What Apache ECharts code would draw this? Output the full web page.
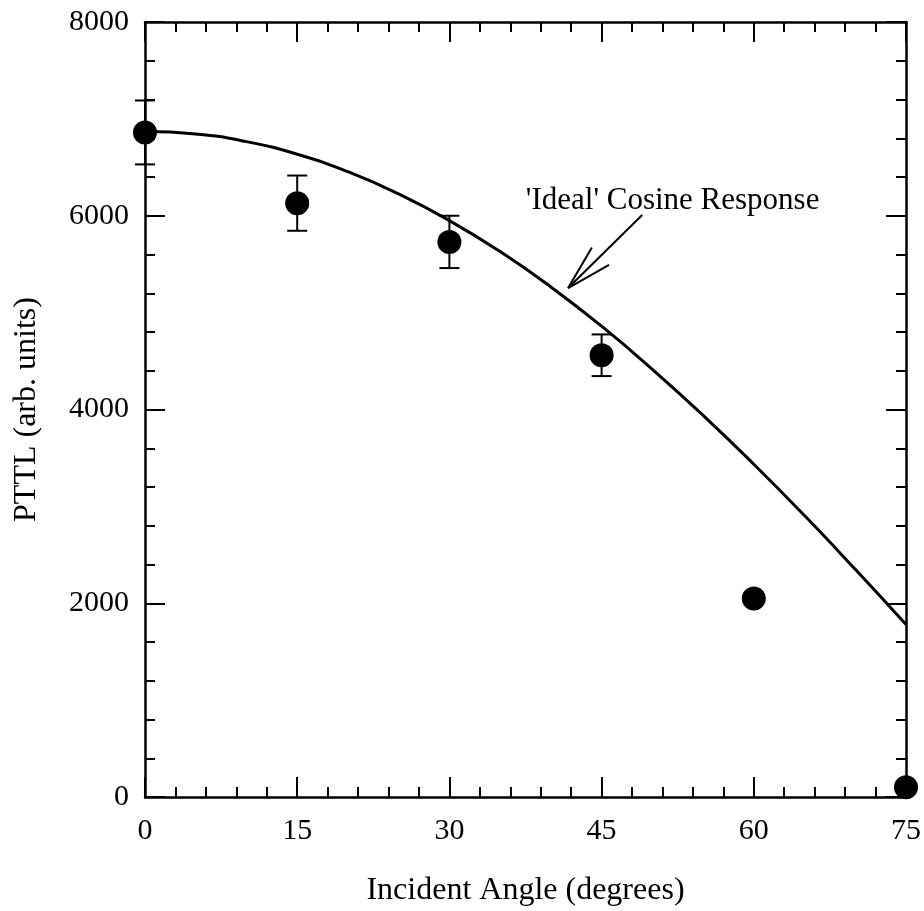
<!DOCTYPE html>
<html><head><meta charset="utf-8">
<script src="https://cdn.jsdelivr.net/npm/echarts@6/dist/echarts.min.js"></script>
<style>html,body{margin:0;padding:0;background:#fff}#c{width:924px;height:911px}</style>
</head><body><div id="c"></div>
<script>
// ---- data ----
const angles = [0, 15, 30, 45, 60, 75];
const pttl = [6860, 6130, 5730, 4560, 2050, 100];
const pttlErr = [330, 285, 270, 215, 0, 0];
const curveAngles = [0, 5, 10, 15, 20, 25, 30, 35, 40, 45, 50, 55, 60, 65, 70, 75];
const curveValues = [6870, 6845, 6765, 6635, 6455, 6225, 5950, 5630, 5265, 4860, 4415, 3940, 3435, 2905, 2350, 1780];
const xTickValues = [0, 15, 30, 45, 60, 75];
const yTickValues = [0, 2000, 4000, 6000, 8000];
const annotationText = "'Ideal' Cosine Response";
const arrowTail = [49.0, 6008];
const arrowTip = [41.7, 5254];
const annotationAt = [52.0, 6150];

const FONT = 'Liberation Serif';
const chart = echarts.init(document.getElementById('c'));

function axisCommon(showLabel, margin) {
  return {
    axisLine: { show: true, onZero: false, lineStyle: { color: '#000', width: 2.5 } },
    axisTick: { show: true, inside: true, length: 20, lineStyle: { color: '#000', width: 2 } },
    minorTick: { show: true, splitNumber: 5, length: 10, lineStyle: { color: '#000', width: 2 } },
    splitLine: { show: false },
    axisLabel: { show: showLabel, color: '#000', fontFamily: FONT, fontSize: 30, margin: margin,
                 formatter: function (v) { return String(v); } }
  };
}

const xBase = { type: 'value', min: xTickValues[0], max: xTickValues[xTickValues.length - 1], interval: 15 };
const yBase = { type: 'value', min: yTickValues[0], max: yTickValues[yTickValues.length - 1], interval: 2000 };

const option = {
  backgroundColor: '#fff',
  animation: false,
  grid: { left: 145, right: 18, top: 22, bottom: 114, containLabel: false, outerBoundsMode: 'none' },
  xAxis: [
    Object.assign({}, xBase, axisCommon(true, 19), {
      position: 'bottom',
      name: 'Incident Angle (degrees)', nameLocation: 'middle', nameGap: 78,
      nameTextStyle: { color: '#000', fontFamily: FONT, fontSize: 32 }
    }),
    Object.assign({}, xBase, axisCommon(false, 15), { position: 'top' })
  ],
  yAxis: [
    Object.assign({}, yBase, axisCommon(true, 16), {
      position: 'left',
      name: 'PTTL (arb. units)', nameLocation: 'middle', nameGap: 102, nameRotate: 90,
      nameTextStyle: { color: '#000', fontFamily: FONT, fontSize: 32 }
    }),
    Object.assign({}, yBase, axisCommon(false, 15), { position: 'right' })
  ],
  series: [
    {
      type: 'line', xAxisIndex: 0, yAxisIndex: 0,
      data: curveAngles.map((a, i) => [a, curveValues[i]]),
      smooth: true, showSymbol: false, symbol: 'none',
      lineStyle: { color: '#000', width: 3 }, z: 3
    },
    {
      type: 'custom', xAxisIndex: 0, yAxisIndex: 0,
      data: angles.map((a, i) => [a, pttl[i], pttlErr[i]]),
      renderItem: function (params, api) {
        const x = api.value(0), y = api.value(1), e = api.value(2);
        if (!e) return null;
        const top = api.coord([x, y + e]);
        const bot = api.coord([x, y - e]);
        const hw = 10;
        const st = { stroke: '#000', lineWidth: 2 };
        return {
          type: 'group', children: [
            { type: 'line', shape: { x1: top[0], y1: top[1], x2: bot[0], y2: bot[1] }, style: st },
            { type: 'line', shape: { x1: top[0] - hw, y1: top[1], x2: top[0] + hw, y2: top[1] }, style: st },
            { type: 'line', shape: { x1: bot[0] - hw, y1: bot[1], x2: bot[0] + hw, y2: bot[1] }, style: st }
          ]
        };
      }, z: 4
    },
    {
      type: 'scatter', xAxisIndex: 0, yAxisIndex: 0,
      data: angles.map((a, i) => [a, pttl[i]]),
      symbol: 'circle', symbolSize: 24,
      itemStyle: { color: '#000', opacity: 1 }, z: 5
    },
    {
      type: 'custom', xAxisIndex: 0, yAxisIndex: 0,
      data: [[arrowTail[0], arrowTail[1], arrowTip[0], arrowTip[1], annotationAt[0], annotationAt[1]]],
      renderItem: function (params, api) {
        const t = api.coord([api.value(0), api.value(1)]);
        const p = api.coord([api.value(2), api.value(3)]);
        const txt = api.coord([api.value(4), api.value(5)]);
        const ang = Math.atan2(t[1] - p[1], t[0] - p[0]);
        const L = 47, da = 15 * Math.PI / 180;
        const h1 = [p[0] + L * Math.cos(ang + da), p[1] + L * Math.sin(ang + da)];
        const h2 = [p[0] + L * Math.cos(ang - da), p[1] + L * Math.sin(ang - da)];
        const st = { stroke: '#000', lineWidth: 2 };
        return {
          type: 'group', children: [
            { type: 'line', shape: { x1: t[0], y1: t[1], x2: p[0], y2: p[1] }, style: st },
            { type: 'line', shape: { x1: p[0], y1: p[1], x2: h1[0], y2: h1[1] }, style: st },
            { type: 'line', shape: { x1: p[0], y1: p[1], x2: h2[0], y2: h2[1] }, style: st },
            { type: 'text', x: txt[0], y: txt[1], style: {
                text: annotationText, fill: '#000', font: '31px "Liberation Serif"',
                align: 'center', verticalAlign: 'middle' } }
          ]
        };
      }, z: 6
    }
  ]
};
chart.setOption(option);
</script>
</body></html>
